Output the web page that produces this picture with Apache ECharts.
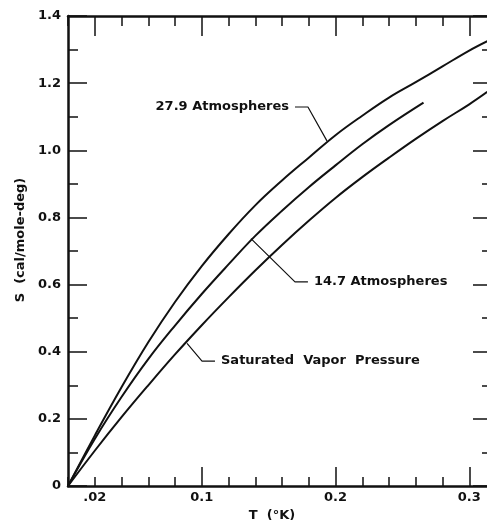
<!DOCTYPE html>
<html>
<head>
<meta charset="utf-8">
<title>S vs T</title>
<script src="https://cdn.jsdelivr.net/npm/echarts@6/dist/echarts.min.js"></script>
<style>
  html, body { margin: 0; padding: 0; background: #ffffff; }
  #chart { width: 487px; height: 520px; }
</style>
</head>
<body>
<div id="chart"></div>
<script>
  // curves: T in K, S in cal/mole-deg
  var tHigh = [0, 0.02, 0.04, 0.06, 0.08, 0.10, 0.12, 0.14, 0.16, 0.18, 0.20, 0.22, 0.24, 0.26, 0.28, 0.30, 0.3135];
  var sHigh = [0, 0.15, 0.294, 0.428, 0.548, 0.655, 0.75, 0.836, 0.91, 0.978, 1.045, 1.103, 1.157, 1.203, 1.25, 1.297, 1.325];

  var tMid = [0, 0.02, 0.04, 0.06, 0.08, 0.10, 0.12, 0.14, 0.16, 0.18, 0.20, 0.22, 0.24, 0.2658];
  var sMid = [0, 0.14, 0.265, 0.378, 0.478, 0.572, 0.66, 0.745, 0.82, 0.89, 0.955, 1.018, 1.075, 1.142];

  var tSvp = [0, 0.02, 0.04, 0.06, 0.08, 0.10, 0.12, 0.14, 0.16, 0.18, 0.20, 0.22, 0.24, 0.26, 0.28, 0.30, 0.3135];
  var sSvp = [0, 0.105, 0.205, 0.30, 0.392, 0.479, 0.562, 0.642, 0.718, 0.79, 0.858, 0.92, 0.978, 1.034, 1.087, 1.137, 1.174];

  // callout leaders (data coords) and their texts
  var leadHighT = [0.1697, 0.1794, 0.1936];
  var leadHighS = [1.129, 1.129, 1.028];
  var leadMidT = [0.1368, 0.1697, 0.1794];
  var leadMidS = [0.737, 0.608, 0.608];
  var leadSvpT = [0.089, 0.1002, 0.1099];
  var leadSvpS = [0.425, 0.372, 0.372];
  var calloutTexts = ['27.9 Atmospheres', '14.7 Atmospheres', 'Saturated  Vapor  Pressure'];

  var xLabelValues = [0.02, 0.1, 0.2, 0.3];
  var xLabelTexts = ['.02', '0.1', '0.2', '0.3'];
  var xLongTickBottom = [0.1, 0.2, 0.3];
  var xLongTickTop = [0.02, 0.1, 0.2, 0.3];

  var ink = '#111111';
  var font = { fontFamily: 'DejaVu Sans', fontWeight: 'bold', fontSize: 13, color: ink };
  var tickLine = { color: ink, width: 1.5 };
  var frameLine = { color: ink, width: 2.5 };

  function pairs(xs, ys) {
    return xs.map(function (x, i) { return [x, ys[i]]; });
  }

  // put the callout text on one point of a leader
  function leader(xs, ys, labelIdx, pos, text) {
    return pairs(xs, ys).map(function (p, i) {
      if (i !== labelIdx) return p;
      return {
        value: p,
        label: Object.assign({ show: true, position: pos, distance: 6, formatter: text }, font)
      };
    });
  }

  // grid 0 carries the frame, the short ticks and the data;
  // grid 1 sits on top of it and only adds long ticks and labels
  function axis(grid, pos, min, max, interval, tickLen, lineShow, extra) {
    return Object.assign({
      type: 'value', gridIndex: grid, position: pos, min: min, max: max, interval: interval,
      splitLine: { show: false },
      axisLine: { show: lineShow, onZero: false, lineStyle: frameLine },
      axisTick: { show: true, inside: true, length: tickLen, lineStyle: tickLine },
      axisLabel: { show: false }
    }, extra || {});
  }

  var chart = echarts.init(document.getElementById('chart'));

  var box = { left: 68, right: -9, top: 16, bottom: 34, outerBoundsMode: 'none', containLabel: false };

  chart.setOption({
    animation: false,
    backgroundColor: '#ffffff',
    grid: [Object.assign({}, box), Object.assign({}, box)],
    xAxis: [
      axis(0, 'bottom', 0, 0.32, 0.02, 9, true, {
        name: 'T  (°K)',
        nameLocation: 'middle',
        nameGap: 16,
        nameTextStyle: Object.assign({ padding: [0, 20, 0, 0] }, font),
        axisLabel: Object.assign({
          customValues: xLabelValues,
          margin: 5,
          formatter: function (v) {
            var i = xLabelValues.indexOf(v);
            return i >= 0 ? xLabelTexts[i] : '';
          }
        }, font)
      }),
      axis(0, 'top', 0, 0.32, 0.02, 10, true),
      axis(1, 'bottom', 0, 0.32, 0.1, 19, false, {
        axisTick: { show: true, customValues: xLongTickBottom, inside: true, length: 19, lineStyle: tickLine }
      }),
      axis(1, 'top', 0, 0.32, 0.1, 20, false, {
        axisTick: { show: true, customValues: xLongTickTop, inside: true, length: 20, lineStyle: tickLine }
      })
    ],
    yAxis: [
      axis(0, 'left', 0, 1.4, 0.1, 10, true),
      axis(0, 'right', 0, 1.4, 0.1, 14, true),
      axis(1, 'left', 0, 1.4, 0.2, 19, false, {
        name: 'S  (cal/mole-deg)',
        nameLocation: 'middle',
        nameGap: 40,
        nameRotate: 90,
        nameTextStyle: Object.assign({ padding: [0, 0, 0, 22] }, font),
        axisLabel: Object.assign({
          margin: 7,
          formatter: function (v) { return v === 0 ? '0' : v.toFixed(1); }
        }, font)
      }),
      axis(1, 'right', 0, 1.4, 0.2, 23, false)
    ],
    series: [
      {
        name: '27.9 Atmospheres', type: 'line', xAxisIndex: 0, yAxisIndex: 0,
        data: pairs(tHigh, sHigh), smooth: 0.4, showSymbol: false, silent: true,
        lineStyle: { color: ink, width: 2 }
      },
      {
        name: '14.7 Atmospheres', type: 'line', xAxisIndex: 0, yAxisIndex: 0,
        data: pairs(tMid, sMid), smooth: 0.4, showSymbol: false, silent: true,
        lineStyle: { color: ink, width: 2 }
      },
      {
        name: 'Saturated Vapor Pressure', type: 'line', xAxisIndex: 0, yAxisIndex: 0,
        data: pairs(tSvp, sSvp), smooth: 0.4, showSymbol: false, silent: true,
        lineStyle: { color: ink, width: 2 }
      },
      {
        type: 'line', xAxisIndex: 0, yAxisIndex: 0, silent: true,
        symbol: 'circle', symbolSize: 0, showSymbol: true,
        data: leader(leadHighT, leadHighS, 0, 'left', calloutTexts[0]),
        lineStyle: { color: ink, width: 1.2 }, itemStyle: { color: ink }
      },
      {
        type: 'line', xAxisIndex: 0, yAxisIndex: 0, silent: true,
        symbol: 'circle', symbolSize: 0, showSymbol: true,
        data: leader(leadMidT, leadMidS, 2, 'right', calloutTexts[1]),
        lineStyle: { color: ink, width: 1.2 }, itemStyle: { color: ink }
      },
      {
        type: 'line', xAxisIndex: 0, yAxisIndex: 0, silent: true,
        symbol: 'circle', symbolSize: 0, showSymbol: true,
        data: leader(leadSvpT, leadSvpS, 2, 'right', calloutTexts[2]),
        lineStyle: { color: ink, width: 1.2 }, itemStyle: { color: ink }
      }
    ]
  });
</script>
</body>
</html>
